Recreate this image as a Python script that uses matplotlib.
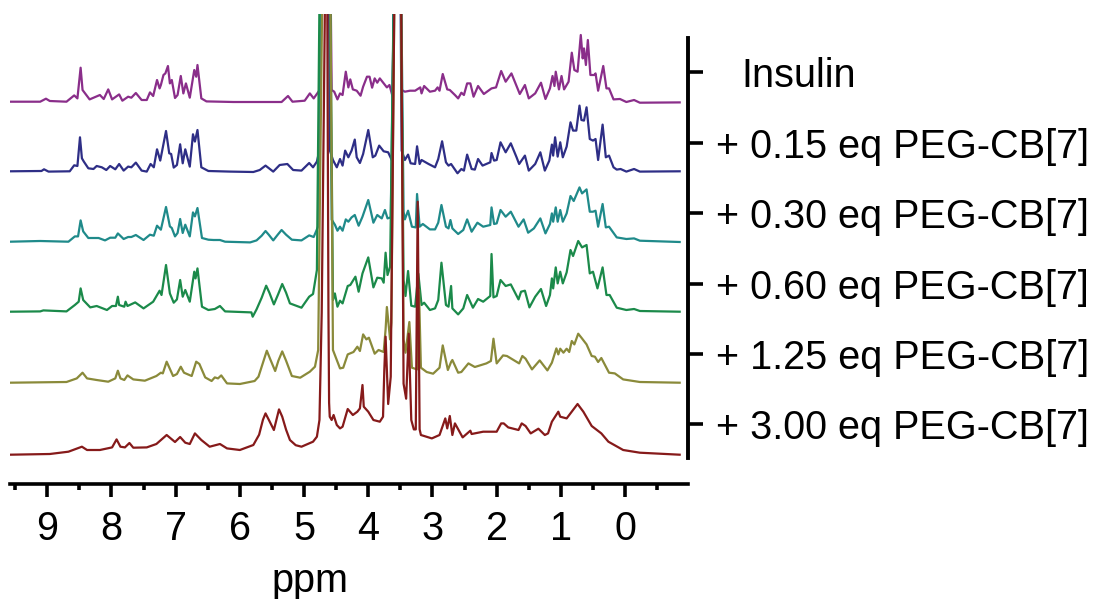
import matplotlib
matplotlib.use("Agg")
import matplotlib.pyplot as plt
from matplotlib.ticker import MultipleLocator

plt.rcParams['font.family'] = ['Liberation Sans', 'DejaVu Sans']

labels = ["Insulin", "+ 0.15 eq PEG-CB[7]", "+ 0.30 eq PEG-CB[7]",
          "+ 0.60 eq PEG-CB[7]", "+ 1.25 eq PEG-CB[7]", "+ 3.00 eq PEG-CB[7]"]
colors = ["#8A2E8A", "#2E2E86", "#1F8A8A", "#1B8A4A", "#8A8A3A", "#861A1A"]
offsets = [382.3, 312.7, 242.3, 172.3, 101.3, 29.3]
label_positions = [412, 341, 271, 200, 130, 60]
x_ticks = [9, 8, 7, 6, 5, 4, 3, 2, 1, 0]

insulin_ppm = [9.58,9.11,9.02,8.96,8.70,8.58,8.53,8.48,8.45,8.34,8.18,8.12,8.05,7.99,7.88,7.83,7.74,7.69,7.62,7.53,7.45,7.40,7.35,7.29,7.25,7.23,7.19,7.16,7.12,7.09,7.06,7.01,6.97,6.92,6.88,6.84,6.78,6.71,6.68,6.66,6.60,6.52,6.10,5.35,5.25,5.18,4.99,4.91,4.85,4.75,
 4.68,4.665,4.645,4.57,4.53,4.48,4.44,4.40,4.35,4.31,4.28,4.24,4.18,4.12,4.08,4.02,3.98,3.94,3.90,3.86,3.82,3.76,3.71,3.67,3.62,
 3.55,3.54,3.53,3.48,3.43,3.35,3.27,3.19,3.17,3.13,3.04,2.96,2.92,2.89,2.84,2.77,2.73,2.65,2.60,2.55,2.51,2.46,2.41,2.36,2.29,2.20,2.08,2.01,1.93,1.86,1.77,1.64,1.56,1.50,1.40,1.31,1.24,1.17,1.13,1.10,1.08,1.03,0.99,0.95,0.88,0.83,0.79,0.74,0.69,0.66,0.64,0.61,0.58,0.54,0.48,0.46,0.42,0.34,0.29,0.25,0.18,0.08,-0.02,-0.14,-0.23,-0.85]
insulin_int = [0,0,3,0.7,0,6.3,3.3,34,11.7,2.3,6.7,2.7,12.3,2.3,7.3,1,5,4,8.7,1.7,1.7,9.3,5.7,21.7,13.3,16.7,26.7,28.3,35.7,18.3,21.7,3.7,6.7,25.7,8.3,18.3,4,31.7,25,36.7,3.3,0.3,-0.3,-0.3,5.7,0,1,8.3,3.3,12.3,
 480,600,480,11.7,10,2.3,8.3,6.7,30,14.3,22.3,12.3,11,6,15,25,25,14,23.3,19,23.3,18.3,14.3,16.7,5,
 480,600,480,11.7,10,11,11,14.3,8.3,15.7,10,11,14.3,11,27.7,12.3,11.7,6.7,3.3,9,6.7,18.3,18.3,5,15.7,7.7,13.3,14.3,30.7,20,28.3,7.7,16.7,3.3,8.3,19,2.7,13.3,25.7,15.7,30,12.3,25.7,12.3,20,49,31.7,30,66.7,43.3,53.3,36.7,61.7,26.7,26.7,28.3,11,35.7,13.3,13.3,2.3,2.7,-0.3,1.7,-1,-0.7]

eq015_ppm = [9.58,9.09,9.05,8.98,8.65,8.58,8.53,8.49,8.46,8.43,8.36,8.28,8.23,8.15,8.08,8.02,7.94,7.88,7.81,7.74,7.69,7.62,7.53,7.45,7.39,7.34,7.29,7.24,7.15,7.10,7.07,7.03,6.98,6.93,6.89,6.85,6.78,6.73,6.70,6.66,6.60,6.49,6.15,5.79,5.69,5.60,5.48,5.38,5.26,5.17,5.04,4.92,4.86,4.80,4.76,
 4.69,4.665,4.63,4.60,4.55,4.49,4.44,4.40,4.36,4.31,4.26,4.21,4.18,4.13,4.08,4.00,3.93,3.89,3.83,3.76,3.69,3.63,
 3.55,3.54,3.53,3.48,3.43,3.38,3.34,3.27,3.24,3.20,3.17,3.06,2.96,2.91,2.85,2.79,2.75,2.71,2.61,2.55,2.51,2.46,2.39,2.34,2.29,2.22,2.10,2.08,2.04,2.00,1.94,1.86,1.78,1.69,1.65,1.56,1.50,1.40,1.32,1.25,1.18,1.14,1.12,1.09,1.05,1.01,0.97,0.91,0.85,0.81,0.76,0.71,0.68,0.64,0.60,0.55,0.50,0.46,0.42,0.35,0.30,0.25,0.18,0.13,0.07,-0.02,-0.14,-0.23,-0.85]
eq015_int = [0,0.3,2,-0.3,0,6,5.3,34,13,9.7,3,2.3,5.3,4,1.3,5.3,2,7.3,0.7,4.7,4,8.7,0.7,-0.3,7.3,4,22,10.7,40.3,18,17.3,3.7,6.3,27,8,22,4.7,37,29.7,41.3,4,0.3,-0.3,-0.7,1.3,5.7,-0.3,6.3,7.3,1.3,0.7,8.3,4,9.7,21.3,
 480,600,480,21.3,11.3,4,12.3,5.7,20.7,14,20.7,31.7,14,8.3,17.3,41.3,14,15.7,25.7,20,19,10.7,
 480,600,480,20.7,11.3,16.7,8,7.3,25,7.3,11.3,7.3,4,12.3,30,9,5.7,7.3,-2,2.3,0.7,16.7,2.3,1.7,12.3,5.7,9,18.3,10.7,11.3,29,19,28,14,7.3,15.7,0.7,7.3,19,0.7,10.7,26.7,15.7,34,14.7,29,14,24.7,49,40.7,40.7,65.7,51.3,50.7,64,32.3,30.7,32.3,11.3,46.7,14,15.7,4,1.7,2.3,-0.3,2.3,-0.3,0]

eq030_ppm = [9.58,9.11,8.67,8.57,8.52,8.48,8.44,8.36,8.20,8.10,8.02,7.94,7.90,7.81,7.74,7.69,7.62,7.50,7.40,7.34,7.29,7.23,7.15,7.09,7.06,7.01,6.97,6.93,6.89,6.85,6.78,6.73,6.70,6.66,6.59,6.49,6.41,6.31,6.23,5.84,5.74,5.66,5.60,5.55,5.48,5.41,5.35,5.28,5.19,5.04,4.92,4.85,4.78,
 4.70,4.665,4.62,4.57,4.52,4.48,4.44,4.40,4.35,4.31,4.26,4.21,4.15,4.09,4.00,3.92,3.86,3.79,3.74,3.70,3.65,
 3.555,3.54,3.525,3.45,3.43,3.38,3.32,3.26,3.24,3.20,3.15,3.04,2.96,2.91,2.86,2.79,2.75,2.72,2.69,2.60,2.52,2.46,2.39,2.30,2.21,2.10,2.08,2.04,2.00,1.94,1.86,1.78,1.66,1.58,1.51,1.42,1.32,1.24,1.17,1.14,1.12,1.08,1.05,1.01,0.97,0.91,0.85,0.80,0.71,0.67,0.60,0.55,0.50,0.46,0.42,0.35,0.30,0.25,0.13,-0.02,-0.14,-0.23,-0.85]
eq030_int = [0,0.7,0,5.3,5.3,21.3,10.3,3.7,3.7,1.3,4,4,8.3,2.7,4.7,4.7,6.7,1.7,7,6,16,12,34.7,15.3,13.7,5.3,8.7,22.7,8.7,17,5.3,29.3,25.3,33.7,3.7,2,1.7,1.7,0,-0.7,1.3,6,10.7,7,1.3,7,11.7,7,2,1.3,6.3,4.7,15.3,
 480,600,480,22,17,11,15,11,22.3,20,24.3,26.7,16,25,41.7,19,26.7,23.3,31.7,23.3,24.3,
 480,600,480,30,22.3,31,15,14.3,47.7,15,17.7,12.3,12.3,19,36.7,15,13.3,21.7,13.3,7.7,11.7,22.3,10,19,15,16.7,34.3,17.7,18.3,31.7,25,30,15,22.3,9,13.3,23.3,8.3,17.7,28.3,20,34.3,20,31.7,20,28.3,45.7,40.7,54.3,48.3,52.3,30,30,31,15,37.7,14.3,15,4.3,2.7,3.3,1,-0.3]

eq060_ppm = [9.58,9.11,9.06,8.70,8.57,8.51,8.48,8.44,8.33,8.23,8.07,7.99,7.93,7.90,7.88,7.80,7.78,7.75,7.63,7.50,7.35,7.25,7.22,7.15,7.09,7.03,6.98,6.93,6.89,6.85,6.78,6.71,6.69,6.66,6.59,6.49,6.39,6.31,6.23,5.82,5.80,5.74,5.66,5.59,5.54,5.47,5.40,5.34,5.28,5.22,5.04,4.92,4.86,4.80,
 4.735,4.665,4.615,4.55,4.52,4.48,4.44,4.40,4.32,4.28,4.20,4.15,4.09,4.00,3.92,3.86,3.79,3.76,3.73,3.70,3.66,
 3.565,3.54,3.515,3.45,3.42,3.38,3.33,3.27,3.22,3.19,3.17,3.13,3.04,2.96,2.91,2.86,2.79,2.75,2.71,2.69,2.60,2.52,2.46,2.37,2.29,2.21,2.10,2.08,2.05,2.00,1.94,1.86,1.78,1.66,1.62,1.56,1.49,1.40,1.31,1.23,1.17,1.14,1.12,1.08,1.05,1.01,0.97,0.91,0.85,0.81,0.73,0.67,0.60,0.55,0.50,0.43,0.35,0.29,0.24,0.13,-0.02,-0.14,-0.23,-0.85]
eq060_int = [0,0.3,1.3,0.3,6.7,10,23.3,11.7,4.3,5.7,1.7,5.7,5.7,15,6.7,5,10,5.7,9.3,3.3,10,21,16.7,46.7,18.3,9,12.3,31.7,15,21.7,10,40,33.3,43.3,5,1.7,2.7,5.7,0.3,-0.7,-5,2.3,14,26,19,7.3,18,27.7,19,8.3,4,15,17.7,41.7,
 480,600,480,11.7,18.3,5,11,8.3,25.7,26.7,35,20,38.3,54.3,24.3,34,33.3,29,59,36.7,45,
 480,600,480,31.7,15.7,40.7,6,5,38,19,6.7,9,1.7,3.3,11.7,49,6.7,5,25.7,3.3,-2.7,3.3,16.7,4,12.7,10,15.7,57.7,14.3,15.7,31.7,25.7,27.3,12.3,20,21,4.3,15,22.7,5.7,16.7,33.3,23.3,44.3,28.3,40,28.3,39.3,61.7,55.7,70.7,64.3,66.7,38.3,40,23.3,44.3,16.7,16.7,4,1.7,2.7,0.7,0]

eq125_ppm = [9.58,8.70,8.54,8.45,8.38,8.23,8.05,7.94,7.90,7.86,7.80,7.75,7.66,7.48,7.30,7.23,7.20,7.14,7.04,6.98,6.92,6.87,6.75,6.68,6.63,6.54,6.44,6.39,6.34,6.29,6.20,6.00,5.77,5.71,5.64,5.58,5.53,5.45,5.40,5.34,5.28,5.19,5.06,4.91,4.83,4.78,
 4.70,4.665,4.60,4.55,4.44,4.39,4.32,4.23,4.17,4.13,4.08,4.03,3.99,3.90,3.84,3.76,3.73,3.71,3.66,3.64,
 3.58,3.54,3.50,3.45,3.42,3.36,3.32,3.24,3.21,3.18,3.09,2.99,2.89,2.84,2.76,2.71,2.69,2.60,2.55,2.44,2.34,2.16,2.09,2.05,2.00,1.90,1.84,1.65,1.60,1.55,1.45,1.33,1.21,1.14,1.07,1.04,1.01,0.96,0.91,0.87,0.83,0.79,0.73,0.68,0.60,0.52,0.47,0.42,0.37,0.25,0.16,0.03,-0.23,-0.85]
eq125_int = [0,0.7,4.3,10,4.3,2.7,1,4.3,12,4.3,2.7,7.3,3.3,2,6.7,10,9.3,21,6.7,8.7,16,10,6.7,21,18.7,5.3,1.7,5.3,4.3,7.3,-0.7,-1.3,1.7,6,20,32,24,11.7,22,31.3,22,6.7,5,11,16,32.7,
 480,600,480,32.7,14.3,15,28.3,30.7,36,31.7,48.3,43.3,45,29,32.7,30.7,53.3,75.7,43.3,60,
 480,600,480,43.3,30,60.7,15,13.3,93,15,10.7,9,15,37.3,12.7,20.7,22.7,10,10.7,19.3,15.7,19.3,21.7,44,19.3,27.3,26.7,19.3,26.7,24,13.3,22.3,12.3,20,34.3,28.3,34,30,34,30.7,41.7,38.3,49,45,38.3,26.7,26,20.7,24.7,10,9.3,3.3,0.7,0]

eq300_ppm = [9.58,8.96,8.67,8.46,8.38,8.18,7.99,7.92,7.86,7.79,7.72,7.66,7.45,7.30,7.14,7.01,6.93,6.85,6.78,6.70,6.60,6.47,6.31,6.20,6.00,5.79,5.70,5.64,5.60,5.55,5.47,5.43,5.39,5.34,5.28,5.22,5.13,5.04,4.86,4.80,4.76,
 4.725,4.67,4.655,4.64,4.62,4.61,4.60,4.57,4.54,4.49,4.44,4.40,4.32,4.24,4.17,4.13,4.09,4.07,4.00,3.92,3.82,3.77,3.75,3.73,3.69,3.65,
 3.59,3.54,3.49,3.45,3.41,3.37,3.33,3.29,3.26,3.23,3.20,3.18,3.01,2.89,2.80,2.77,2.73,2.69,2.65,2.53,2.41,2.39,2.21,2.00,1.93,1.89,1.82,1.66,1.61,1.55,1.47,1.35,1.25,1.20,1.14,1.04,1.01,0.91,0.74,0.65,0.52,0.37,0.26,0.03,-0.23,-0.85]
eq300_int = [0,0.7,3,8,4.7,4.7,7.3,15.3,8,7.3,11.7,7,7.3,10.7,19.7,12.7,17.7,12,10.7,21.3,14.7,8,10.7,6.3,4.7,9.7,20,35,41.3,35,24.7,35,45.3,38,25,14.7,9.5,8,13,18,34.7,
 142,480,600,480,142,52,38,34.7,39.7,29.7,26.3,28,45.7,39.7,43,46.3,69.7,48,43,34.7,33,38,84.7,118,50.7,78,
 480,600,480,71,56,121,34.7,25.3,25.3,253,25.3,19.7,16.3,19.7,36.3,26.3,38.7,19.7,31.3,17.3,24,20.7,23,23,31.3,31.3,27.3,24.7,31.3,28.7,21.3,26,19.7,21.3,33,43,38,36.3,50.7,43,28.7,21.3,13,4.7,2,0]

series_ppm = [insulin_ppm, eq015_ppm, eq030_ppm, eq060_ppm, eq125_ppm, eq300_ppm]
series_int = [insulin_int, eq015_int, eq030_int, eq060_int, eq125_int, eq300_int]

fig = plt.figure(figsize=(10.96, 5.99), dpi=100, facecolor="white")
ax = fig.add_axes([10/1096, (599-484)/599, 678/1096, 470/599])

for xs, ys, off, col in zip(series_ppm, series_int, offsets, colors):
    ax.plot(xs, [off + v for v in ys], color=col, lw=1.6, solid_joinstyle="round")

ax.set_xlim(9.58, -0.98)
ax.set_ylim(0, 470)

for s in ("top", "left"):
    ax.spines[s].set_visible(False)
ax.spines["bottom"].set_linewidth(2.6)
ax.spines["right"].set_linewidth(2.8)
ax.spines["right"].set_bounds(26, 446)

ax.set_xticks(x_ticks)
ax.xaxis.set_minor_locator(MultipleLocator(0.5))
ax.tick_params(axis="x", which="major", length=9, width=2.6, labelsize=28.5, pad=10)
ax.tick_params(axis="x", which="minor", length=4.5, width=2.6)

ax.yaxis.tick_right()
ax.set_yticks(label_positions)
ax.set_yticklabels(labels)
ax.tick_params(axis="y", which="major", length=11, width=2.6, labelsize=28.5, pad=9.5)
ax.yaxis.get_major_ticks()[0].set_pad(27.5)

ax.set_xlabel("ppm", fontsize=28.5, x=(310-10)/678, labelpad=10)
fig.savefig("out.png", dpi=100, facecolor="white")
